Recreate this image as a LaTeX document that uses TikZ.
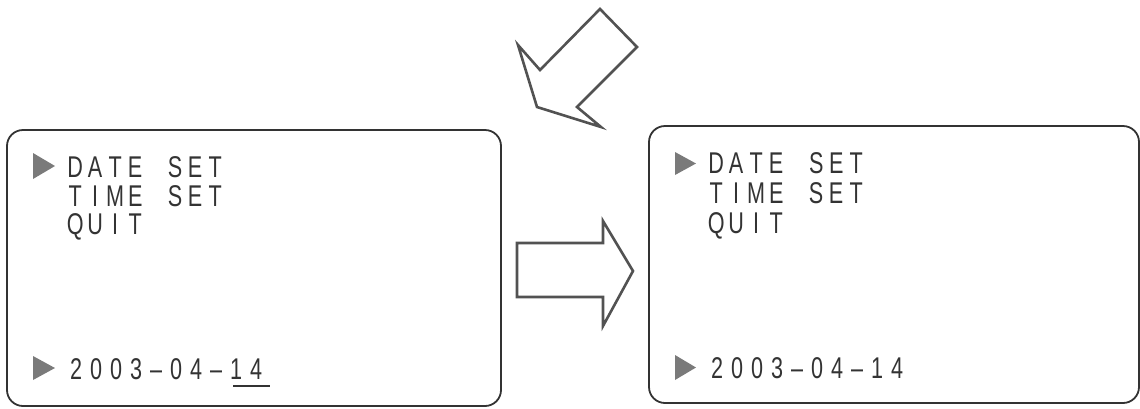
\documentclass[tikz,border=0pt]{standalone}
\usepackage{fontspec}
\newfontfamily\lcd[FakeStretch=0.72]{Liberation Sans}
\newcommand\monostr[1]{\monoaux#1\relax}
\def\monoaux#1{\ifx\relax#1\else\makebox[20pt][c]{#1}\expandafter\monoaux\fi}
\definecolor{ink}{HTML}{333333}
\definecolor{tri}{HTML}{7A7A7A}
\begin{document}
\begin{tikzpicture}[x=1pt,y=-1pt,
  screen/.style={draw=ink,line width=1.8pt,rounded corners=16pt},
  blockarrow/.style={draw=ink!85,line width=2.6pt,line join=miter,fill=white},
  menutxt/.style={anchor=base west,inner sep=0pt,text=ink,font=\lcd\fontsize{30}{30}\selectfont},
  cursor/.style={fill=tri}]
\useasboundingbox (0,0) rectangle (1140,408);
% screens
\draw[screen] (7,130) rectangle (501,406);
\draw[screen] (649,126) rectangle (1139,403);
% left screen text
\node[menutxt] (l1) at (65,177) {\monostr{DATE~SET}};
\node[menutxt] (l2) at (65,206) {\monostr{TIME~SET}};
\node[menutxt] (l3) at (65,234) {\monostr{QUIT}};
\node[menutxt] (l4) at (66,379) {\monostr{2003\textendash04\textendash14}};
\fill[cursor] (33,153) -- (55,166) -- (33,179) -- cycle;
\fill[cursor] (33,356) -- (55,368) -- (33,380) -- cycle;
\draw[ink,line width=1.3pt] (233,386) -- (270,386);
% right screen text
\node[menutxt] (r1) at (706,173) {\monostr{DATE~SET}};
\node[menutxt] (r2) at (706,203) {\monostr{TIME~SET}};
\node[menutxt] (r3) at (706,233) {\monostr{QUIT}};
\node[menutxt] (r4) at (707,378) {\monostr{2003\textendash04\textendash14}};
\fill[cursor] (675,152) -- (696,163.5) -- (675,175) -- cycle;
\fill[cursor] (675,355) -- (696,367.5) -- (675,380) -- cycle;
% right block arrow
\draw[blockarrow] (517,243) -- (603,243) -- (603,221) -- (633,271) -- (603,326) -- (603,297) -- (517,297) -- cycle;
% diagonal block arrow
\draw[blockarrow] (600,9) -- (637,47) -- (577,107) -- (601,127) -- (537,107) -- (518,45) -- (540,70) -- cycle;
\end{tikzpicture}
\end{document}
